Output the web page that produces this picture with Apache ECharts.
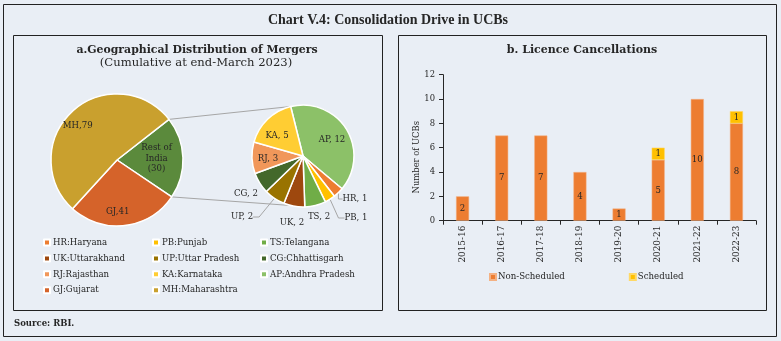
<!DOCTYPE html>
<html>
<head>
<meta charset="utf-8">
<script src="https://cdn.jsdelivr.net/npm/echarts@6/dist/echarts.min.js"></script>
<style>
  html, body { margin: 0; padding: 0; background: #E9EEF5; }
  #chart { width: 781px; height: 341px; }
</style>
</head>
<body>
<div id="chart"></div>
<script>
// Panel a: mergers by state (main pie + breakdown of "Rest of India")
const mainNames = ['Rest of India', 'GJ:Gujarat', 'MH:Maharashtra'];
const mainLabels = ['Rest of\nIndia\n(30)', 'GJ,41', 'MH,79'];
const mainValues = [30, 41, 79];

const restCodes = ['AP', 'HR', 'PB', 'TS', 'UK', 'UP', 'CG', 'RJ', 'KA'];
const restStates = ['Andhra Pradesh', 'Haryana', 'Punjab', 'Telangana', 'Uttarakhand',
                    'Uttar Pradesh', 'Chhattisgarh', 'Rajasthan', 'Karnataka'];
const restValues = [12, 1, 1, 2, 2, 2, 2, 3, 5];

// Panel b: licence cancellations
const years = ['2015-16', '2016-17', '2017-18', '2018-19', '2019-20', '2020-21', '2021-22', '2022-23'];
const nonScheduled = [2, 7, 7, 4, 1, 5, 10, 8];
const scheduled = [null, null, null, null, null, 1, null, 1];
const yTicks = [0, 2, 4, 6, 8, 10, 12];

const FONT = '"DejaVu Serif", serif';
const TITLE_FONT = '"Liberation Serif", "Times New Roman", serif';
const TXT = '#262626';

const mainColors = ['#5B8A3C', '#D5632A', '#C9A02E'];
const restColors = ['#8CC168', '#ED7D31', '#FFC000', '#70AD47', '#9E480E',
                    '#997300', '#43682B', '#F1975A', '#FFCD33'];
const insideCodes = new Set(['AP', 'KA', 'RJ']);
const leaderCodes = new Set(['HR', 'PB', 'UP']);

const mainCenter = [117, 160], mainR = 66, mainStart = 38;
const restCenter = [303, 156], restR = 51, restStart = 104;

// where the labels of the breakdown pie sit, relative to its centre
const restLabelOffset = {
  AP: [29, -16], KA: [-26, -20], RJ: [-35, 3],
  HR: [52, 43], PB: [53, 62], TS: [16, 61], UK: [-11, 67], UP: [-61, 61], CG: [-57, 38]
};
// radial placement (fraction of radius) and angular nudge for the main pie labels
const mainLabelRadius = [0.6, 0.79, 0.79];
const mainLabelTurn = [0, -6, 6];

const mainTotal = mainValues.reduce((a, b) => a + b, 0);
const mainMidAngles = [];
{
  let a = mainStart;
  mainValues.forEach(v => {
    const sweep = v / mainTotal * 360;
    mainMidAngles.push(a - sweep / 2);
    a -= sweep;
  });
}

const mainData = mainNames.map((n, i) => ({
  name: n, value: mainValues[i], itemStyle: { color: mainColors[i] }
}));
const restData = restCodes.map((c, i) => ({
  name: c + ':' + restStates[i],
  value: restValues[i],
  itemStyle: { color: restColors[i] },
  label: { position: insideCodes.has(c) ? 'inside' : 'outside' },
  labelLine: { show: leaderCodes.has(c) }
}));

// connector lines between the "Rest of India" slice and the breakdown pie
const restSweep = mainValues[0] / mainTotal * 360;
function polar(c, r, deg) {
  const a = deg * Math.PI / 180;
  return [c[0] + r * Math.cos(a), c[1] - r * Math.sin(a)];
}
const pA1 = polar(mainCenter, mainR, mainStart);
const pA2 = polar(mainCenter, mainR, mainStart - restSweep);
const pB1 = polar(restCenter, restR, restStart);
const pB2 = polar(restCenter, restR, -restStart);

const legendCols = [['HR', 'UK', 'RJ'], ['PB', 'UP', 'KA'], ['TS', 'CG', 'AP']];
const legendName = c => c + ':' + restStates[restCodes.indexOf(c)];
const col1 = legendCols[0].map(legendName).concat(['GJ:Gujarat']);
const col2 = legendCols[1].map(legendName).concat(['MH:Maharashtra']);
const col3 = legendCols[2].map(legendName);
const legendBase = {
  orient: 'vertical', top: 237.5, padding: 0, itemWidth: 6, itemHeight: 6, itemGap: 5.9,
  icon: 'rect', selectedMode: false,
  textStyle: { fontFamily: FONT, fontSize: 8.6, color: TXT, lineHeight: 10, padding: [0, 0, 0, -2] }
};

const chart = echarts.init(document.getElementById('chart'), null, { renderer: 'canvas' });
chart.setOption({
  backgroundColor: '#E9EEF5',
  animation: false,
  graphic: [
    { type: 'rect', shape: { x: 3.5, y: 4.5, width: 773, height: 332 }, style: { fill: null, stroke: '#222', lineWidth: 1 } },
    { type: 'rect', shape: { x: 13.5, y: 35.5, width: 369, height: 275 }, style: { fill: null, stroke: '#222', lineWidth: 1 } },
    { type: 'rect', shape: { x: 398.5, y: 35.5, width: 368, height: 275 }, style: { fill: null, stroke: '#222', lineWidth: 1 } },
    { type: 'text', x: 388, y: 20, style: { text: 'Chart V.4: Consolidation Drive in UCBs', font: 'bold 14px ' + TITLE_FONT, fill: TXT, align: 'center', verticalAlign: 'middle' } },
    { type: 'text', x: 197, y: 50, style: { text: 'a.Geographical Distribution of Mergers', font: 'bold 10.9px ' + FONT, fill: TXT, align: 'center', verticalAlign: 'middle' } },
    { type: 'text', x: 196, y: 63, style: { text: '(Cumulative at end-March 2023)', font: '11.6px ' + FONT, fill: TXT, align: 'center', verticalAlign: 'middle' } },
    { type: 'text', x: 582, y: 50, style: { text: 'b. Licence Cancellations', font: 'bold 11px ' + FONT, fill: TXT, align: 'center', verticalAlign: 'middle' } },
    { type: 'text', x: 14, y: 324, style: { text: 'Source: RBI.', font: 'bold 8.5px ' + FONT, fill: TXT, align: 'left', verticalAlign: 'middle' } },
    { type: 'polyline', shape: { points: [pA1, pB1] }, style: { stroke: '#A6A6A6', lineWidth: 1, fill: null }, z: 0 },
    { type: 'polyline', shape: { points: [pA2, pB2] }, style: { stroke: '#A6A6A6', lineWidth: 1, fill: null }, z: 0 }
  ],
  legend: [
    Object.assign({}, legendBase, { left: 43, data: col1 }),
    Object.assign({}, legendBase, { left: 152, data: col2 }),
    Object.assign({}, legendBase, { left: 260, data: col3 }),
    {
      top: 272.5, left: 489, padding: 0, itemWidth: 6, itemHeight: 6, itemGap: 64, icon: 'rect', selectedMode: false,
      data: ['Non-Scheduled', 'Scheduled'],
      textStyle: { fontFamily: FONT, fontSize: 8.6, color: TXT, padding: [0, 0, 0, -3] }
    }
  ],
  grid: { left: 443, right: 25, top: 74.7, bottom: 120.3, containLabel: false },
  xAxis: {
    type: 'category', data: years,
    axisLine: { lineStyle: { color: '#262626', width: 1 } },
    axisTick: { show: true, length: 4, alignWithLabel: false, lineStyle: { color: '#262626' } },
    axisLabel: { rotate: 90, fontFamily: FONT, fontSize: 8.9, color: TXT, margin: 5 }
  },
  yAxis: {
    type: 'value', min: 0, max: 12, interval: 2,
    name: 'Number of UCBs', nameLocation: 'middle', nameRotate: 90, nameGap: 20,
    nameTextStyle: { fontFamily: FONT, fontSize: 8.4, color: TXT, padding: [0, 19, 0, 0] },
    axisLine: { show: true, lineStyle: { color: '#262626', width: 1 } },
    axisTick: { show: true, length: 4, lineStyle: { color: '#262626' } },
    splitLine: { show: false },
    axisLabel: { fontFamily: FONT, fontSize: 8.4, color: TXT, margin: 8,
                 formatter: v => yTicks.includes(v) ? String(v) : '' }
  },
  series: [
    {
      type: 'pie', name: 'main', center: mainCenter, radius: mainR, startAngle: mainStart,
      clockwise: true, data: mainData, z: 2,
      itemStyle: { borderColor: '#FFFFFF', borderWidth: 1.5 },
      label: {
        show: true, position: 'inside', fontFamily: FONT, fontSize: 8.6, color: TXT, lineHeight: 10.5,
        formatter: p => mainLabels[p.dataIndex]
      },
      labelLayout: p => {
        const i = p.dataIndex;
        const pt = polar(mainCenter, mainR * mainLabelRadius[i], mainMidAngles[i] + mainLabelTurn[i]);
        return { x: pt[0], y: pt[1], align: 'center', verticalAlign: 'middle' };
      },
      emphasis: { disabled: true }
    },
    {
      type: 'pie', name: 'rest', center: restCenter, radius: restR, startAngle: restStart,
      clockwise: true, data: restData, z: 2,
      itemStyle: { borderColor: '#FFFFFF', borderWidth: 1.5 },
      label: {
        show: true, fontFamily: FONT, fontSize: 8.6, color: TXT,
        formatter: p => restCodes[p.dataIndex] + ', ' + p.value
      },
      labelLine: { length: 6, length2: 6, lineStyle: { color: '#A6A6A6', width: 1 } },
      labelLayout: p => {
        const off = restLabelOffset[restCodes[p.dataIndex]];
        if (!off) return {};
        return { x: restCenter[0] + off[0], y: restCenter[1] + off[1], align: 'center', verticalAlign: 'middle' };
      },
      emphasis: { disabled: true }
    },
    {
      type: 'bar', name: 'Non-Scheduled', stack: 'total', data: nonScheduled, barWidth: 13,
      itemStyle: { color: '#ED7D31', borderColor: '#F4B183', borderWidth: 0.5 },
      label: { show: true, position: 'inside', fontFamily: FONT, fontSize: 8.6, color: TXT }
    },
    {
      type: 'bar', name: 'Scheduled', stack: 'total', data: scheduled, barWidth: 13,
      itemStyle: { color: '#FFC000', borderColor: '#FFD966', borderWidth: 0.5 },
      label: { show: true, position: 'inside', fontFamily: FONT, fontSize: 8.6, color: TXT }
    }
  ]
});
</script>
</body>
</html>
